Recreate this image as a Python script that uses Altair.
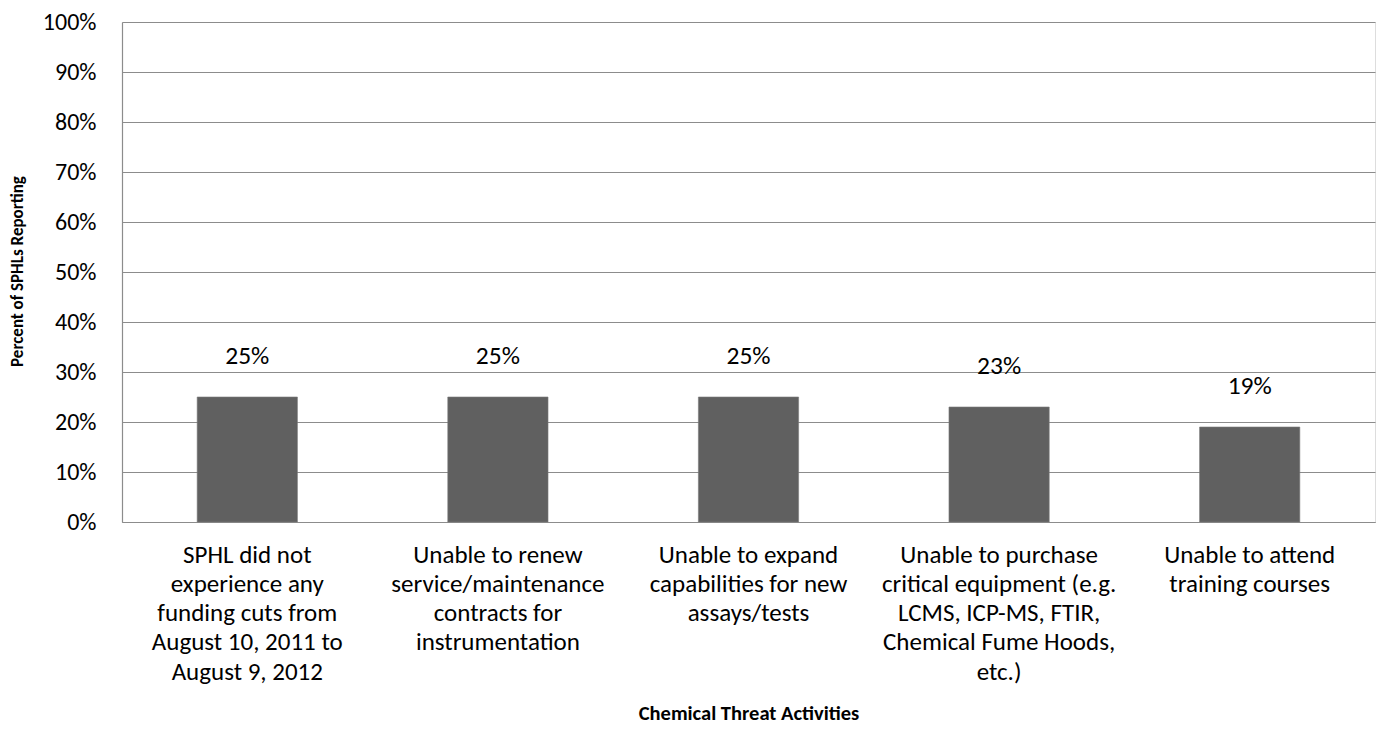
import altair as alt
import pandas as pd

categories = [
    "SPHL did not|experience any|funding cuts from|August 10, 2011 to|August 9, 2012",
    "Unable to renew|service/maintenance|contracts for|instrumentation",
    "Unable to expand|capabilities for new|assays/tests",
    "Unable to purchase|critical equipment (e.g.|LCMS, ICP-MS, FTIR,|Chemical Fume Hoods,|etc.)",
    "Unable to attend|training courses",
]
values = [0.25, 0.25, 0.25, 0.23, 0.19]
y_ticks = [0, 0.1, 0.2, 0.3, 0.4, 0.5, 0.6, 0.7, 0.8, 0.9, 1.0]

df = pd.DataFrame({"cat": categories, "val": values})

FONT = "Carlito, Calibri, Lato"
GRID = "#8c8c8c"

x = alt.X(
    "cat:N",
    sort=categories,
    scale=alt.Scale(paddingInner=0.6, paddingOuter=0.3),
    axis=alt.Axis(
        title="Chemical Threat Activities",
        labelAngle=0,
        labelExpr="split(datum.label, '|')",
        labelFont=FONT,
        labelFontSize=25,
        labelLineHeight=29.3,
        labelColor="#000000",
        labelPadding=20,
        labelLimit=0,
        labelBaseline="top",
        ticks=False,
        domainColor=GRID,
        domainWidth=1.2,
        titleFont=FONT,
        titleFontSize=20.5,
        titleFontWeight="bold",
        titleColor="#000000",
        titleY=197,
        titleBaseline="alphabetic",
    ),
)

y = alt.Y(
    "val:Q",
    scale=alt.Scale(domain=[0, 1], nice=False),
    axis=alt.Axis(
        title="Percent of SPHLs Reporting",
        values=y_ticks,
        format=".0%",
        labelFont=FONT,
        labelFontSize=24,
        labelColor="#000000",
        labelPadding=26,
        ticks=False,
        grid=True,
        gridColor=GRID,
        gridWidth=1.2,
        domainColor=GRID,
        domainWidth=1.2,
        titleFont=FONT,
        titleFontSize=17,
        titleFontWeight="bold",
        titleColor="#000000",
        titleAngle=270,
        titleX=-105,
        titleY=249,
        titleBaseline="middle",
        titleAlign="center",
    ),
)

bars = alt.Chart(df).mark_bar(color="#606060", stroke="#7a7a7a", strokeWidth=0.6).encode(x=x, y=y)

labels = alt.Chart(df).mark_text(
    font=FONT, fontSize=25.5, color="#000000", baseline="alphabetic", dy=-33
).encode(x=alt.X("cat:N", sort=categories), y="val:Q", text=alt.Text("val:Q", format=".0%"))

chart = (
    (bars + labels)
    .properties(
        width=1253,
        height=500,
        autosize=alt.AutoSizeParams(type="none"),
        padding={"left": 114, "top": 14, "right": 1, "bottom": 203},
    )
    .configure_view(stroke=None)
    .configure(background="#ffffff")
)

chart.save("out.html", embed_options={"renderer": "svg", "actions": False})
